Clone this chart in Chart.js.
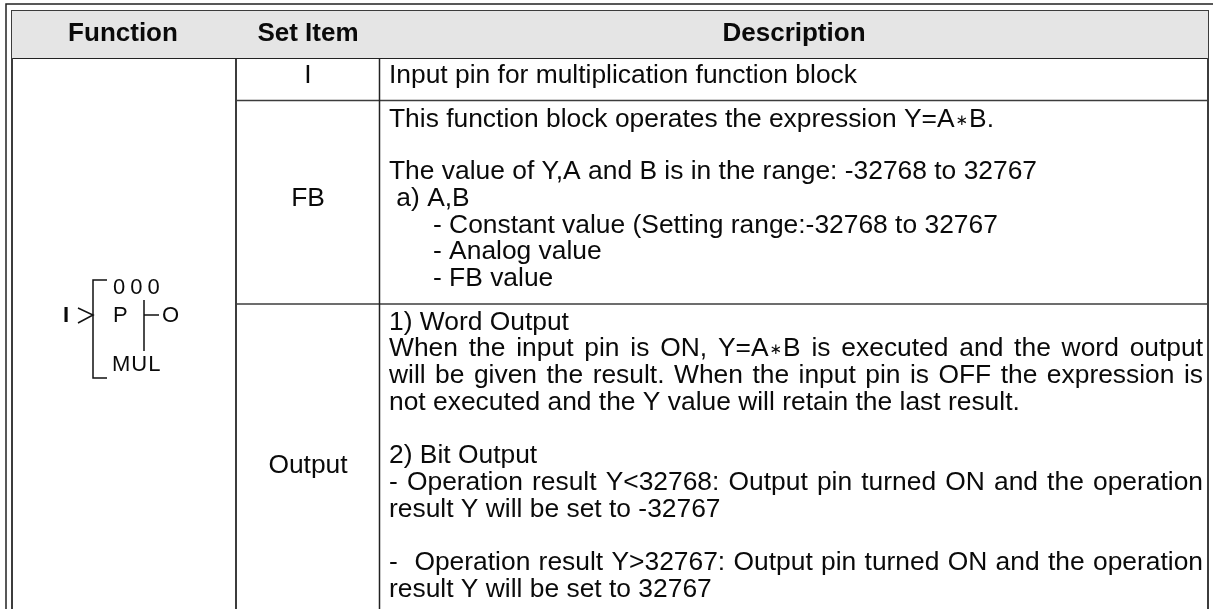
<!DOCTYPE html>
<html>
<head>
<meta charset="utf-8">
<script src="https://cdn.jsdelivr.net/npm/chart.js@4"></script>
<style>
html, body { margin: 0; padding: 0; background: #fff; }
#wrap { width: 1213px; height: 609px; }
</style>
</head>
<body>
<div id="wrap"><canvas id="chartTable" width="1213" height="609"></canvas></div>
<script>
// table rules, in the units of the chart's x and y scales
const colEdges = [12, 236, 379.5, 1208];
const rowEdges = [11, 58, 100.5, 304, 609];

const headers = ['Function', 'Set Item', 'Description'];
const headerCenters = [123, 308, 794];

const setItems = ['I', 'FB', 'Output'];
const setItemY = [83, 206, 473];

const descLines = [
    'Input pin for multiplication function block',
    'This function block operates the expression Y=A\u2217B.',
    'The value of Y,A and B is in the range: -32768 to 32767',
    ' a) A,B',
    '      - Constant value (Setting range:-32768 to 32767',
    '      - Analog value',
    '      - FB value',
    '1) Word Output',
    'When the input pin is ON, Y=A\u2217B is executed and the word output',
    'will be given the result. When the input pin is OFF the expression is',
    'not executed and the Y value will retain the last result.',
    '2) Bit Output',
    '- Operation result Y<32768: Output pin turned ON and the operation',
    'result Y will be set to -32767',
    '-  Operation result Y>32767: Output pin turned ON and the operation',
    'result Y will be set to 32767'
];
const descY = [83, 127, 179, 206, 233, 259, 286, 330, 356, 383, 410, 463, 490, 517, 570, 597];
const justified = [8, 9, 12, 14];

const symbolTexts = ['000', 'P', 'O', 'MUL'];
const symbolX = [113, 113, 162, 112];
const symbolY = [294, 322, 322, 371];
const symbolSpacing = [5, 0, 0, 1];

const symbolLines = [
    [[107, 280], [93, 280], [93, 378], [107, 378]],
    [[78, 308], [93, 315], [78, 323]],
    [[144, 300], [144, 351]],
    [[144, 315], [159, 315]]
];

function lineSet(points, color, width) {
    return {
        data: points.map(p => ({ x: p[0], y: p[1] })),
        borderColor: color,
        borderWidth: width,
        pointRadius: 0,
        showLine: true,
        tension: 0
    };
}

const ruleColor = '#3c3c3c';
const bodyFont = '26.4px "Liberation Sans"';
const starFont = '15px "DejaVu Sans"';
const datasets = [];

// header band
datasets.push({
    data: [{ x: colEdges[0], y: rowEdges[1] }, { x: colEdges[3], y: rowEdges[1] }],
    showLine: true, pointRadius: 0, borderWidth: 0,
    backgroundColor: '#e5e5e5',
    fill: { value: rowEdges[0] }
});

// outer frame
datasets.push(lineSet([[6, 609], [6, 4], [1213, 4]], '#222', 1.5));
// table box and column rules
datasets.push(lineSet([[colEdges[0], 609], [colEdges[0], rowEdges[0]], [colEdges[3], rowEdges[0]], [colEdges[3], 609]], ruleColor, 2));
datasets.push(lineSet([[colEdges[0], rowEdges[1]], [colEdges[3], rowEdges[1]]], '#222', 2));
datasets.push(lineSet([[colEdges[1], rowEdges[0]], [colEdges[1], 609]], ruleColor, 2));
datasets.push(lineSet([[colEdges[2], rowEdges[0]], [colEdges[2], 609]], '#222', 1.5));
datasets.push(lineSet([[colEdges[1], rowEdges[2]], [colEdges[3], rowEdges[2]]], ruleColor, 1.5));
datasets.push(lineSet([[colEdges[1], rowEdges[3]], [colEdges[3], rowEdges[3]]], ruleColor, 1.5));
symbolLines.forEach(l => datasets.push(lineSet(l, '#111', 1.5)));

// the multiplication star is set smaller than the text around it
function drawDescLine(ctx, text, px, py, spacing) {
    const parts = text.split('\u2217');
    ctx.wordSpacing = spacing + 'px';
    let cur = px;
    parts.forEach((part, i) => {
        ctx.font = bodyFont;
        ctx.fillText(part, cur, py);
        cur += ctx.measureText(part).width;
        if (i < parts.length - 1) {
            ctx.font = starFont;
            ctx.fillText('\u2217', cur + 1, py - 2);
            cur += ctx.measureText('\u2217').width + 2;
        }
    });
    ctx.wordSpacing = '0px';
}

function lineWidth(ctx, text) {
    const parts = text.split('\u2217');
    ctx.font = bodyFont;
    let w = parts.reduce((sum, part) => sum + ctx.measureText(part).width, 0);
    ctx.font = starFont;
    w += (parts.length - 1) * (ctx.measureText('\u2217').width + 2);
    ctx.font = bodyFont;
    return w;
}

const tableText = {
    id: 'tableText',
    afterDatasetsDraw(chart) {
        const ctx = chart.ctx;
        const x = chart.scales.x;
        const y = chart.scales.y;
        ctx.save();
        ctx.fillStyle = '#0a0a0a';
        ctx.textBaseline = 'alphabetic';

        ctx.font = 'bold 26px "Liberation Sans"';
        ctx.textAlign = 'center';
        headers.forEach((t, i) => ctx.fillText(t, x.getPixelForValue(headerCenters[i]), y.getPixelForValue(41)));

        ctx.font = bodyFont;
        setItems.forEach((t, i) => ctx.fillText(t, x.getPixelForValue(308), y.getPixelForValue(setItemY[i])));

        ctx.textAlign = 'left';
        descLines.forEach((t, i) => {
            let extra = 0;
            if (justified.includes(i)) {
                extra = (1203 - 389 - lineWidth(ctx, t)) / (t.split(' ').length - 1);
            }
            drawDescLine(ctx, t, x.getPixelForValue(389), y.getPixelForValue(descY[i]), extra);
        });

        ctx.font = '22px "Liberation Sans"';
        symbolTexts.forEach((t, i) => {
            ctx.letterSpacing = symbolSpacing[i] + 'px';
            ctx.fillText(t, x.getPixelForValue(symbolX[i]), y.getPixelForValue(symbolY[i]));
        });
        ctx.letterSpacing = '0px';
        ctx.font = 'bold 22px "Liberation Sans"';
        ctx.fillText('I', x.getPixelForValue(63), y.getPixelForValue(322));
        ctx.restore();
    }
};

new Chart(document.getElementById('chartTable').getContext('2d'), {
    type: 'scatter',
    data: { datasets: datasets },
    plugins: [tableText],
    options: {
        responsive: false,
        animation: false,
        layout: { padding: 0 },
        plugins: { legend: { display: false }, tooltip: { enabled: false }, title: { display: false } },
        scales: {
            x: { type: 'linear', min: 0, max: 1213, display: false },
            y: { type: 'linear', min: 0, max: 609, reverse: true, display: false }
        }
    }
});
</script>
</body>
</html>
